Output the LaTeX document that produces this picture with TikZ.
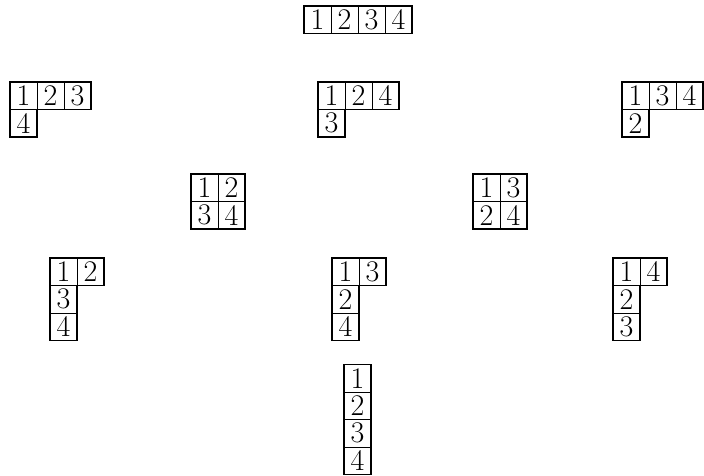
\documentclass[tikz,border=0pt]{standalone}
\begin{document}
\begin{tikzpicture}[x=1pt,y=-1pt]
\tikzset{
  cell/.style={draw,line width=1pt,minimum width=27pt,minimum height=27.5pt,inner sep=0pt,font=\fontsize{30}{30}\selectfont},
  outer/.style={line width=1.9pt,line join=miter},
  tab/.style={x=27pt,y=-27.5pt}
}
\useasboundingbox (0,0) rectangle (704,476);
% top
\begin{scope}[shift={(304,6)},tab]
  \foreach \d/\c/\r in {1/0/0,2/1/0,3/2/0,4/3/0} \node[cell] (T\d) at (\c+0.5,\r+0.5) {\d};
  \draw[outer] (0,0) rectangle (4,1);
\end{scope}
% row 2
\begin{scope}[shift={(10,82)},tab]
  \foreach \d/\c/\r in {1/0/0,2/1/0,3/2/0,4/0/1} \node[cell] (A\d) at (\c+0.5,\r+0.5) {\d};
  \draw[outer] (0,0) -| (3,1) -| (1,2) -| cycle;
\end{scope}
\begin{scope}[shift={(318,82)},tab]
  \foreach \d/\c/\r in {1/0/0,2/1/0,4/2/0,3/0/1} \node[cell] (B\d) at (\c+0.5,\r+0.5) {\d};
  \draw[outer] (0,0) -| (3,1) -| (1,2) -| cycle;
\end{scope}
\begin{scope}[shift={(622,82)},tab]
  \foreach \d/\c/\r in {1/0/0,3/1/0,4/2/0,2/0/1} \node[cell] (C\d) at (\c+0.5,\r+0.5) {\d};
  \draw[outer] (0,0) -| (3,1) -| (1,2) -| cycle;
\end{scope}
% row 3
\begin{scope}[shift={(191,174)},tab]
  \foreach \d/\c/\r in {1/0/0,2/1/0,3/0/1,4/1/1} \node[cell] (D\d) at (\c+0.5,\r+0.5) {\d};
  \draw[outer] (0,0) rectangle (2,2);
\end{scope}
\begin{scope}[shift={(473,174)},tab]
  \foreach \d/\c/\r in {1/0/0,3/1/0,2/0/1,4/1/1} \node[cell] (E\d) at (\c+0.5,\r+0.5) {\d};
  \draw[outer] (0,0) rectangle (2,2);
\end{scope}
% row 4
\begin{scope}[shift={(50,258)},tab]
  \foreach \d/\c/\r in {1/0/0,2/1/0,3/0/1,4/0/2} \node[cell] (F\d) at (\c+0.5,\r+0.5) {\d};
  \draw[outer] (0,0) -| (2,1) -| (1,3) -| cycle;
\end{scope}
\begin{scope}[shift={(332,258)},tab]
  \foreach \d/\c/\r in {1/0/0,3/1/0,2/0/1,4/0/2} \node[cell] (G\d) at (\c+0.5,\r+0.5) {\d};
  \draw[outer] (0,0) -| (2,1) -| (1,3) -| cycle;
\end{scope}
\begin{scope}[shift={(613,258)},tab]
  \foreach \d/\c/\r in {1/0/0,4/1/0,2/0/1,3/0/2} \node[cell] (H\d) at (\c+0.5,\r+0.5) {\d};
  \draw[outer] (0,0) -| (2,1) -| (1,3) -| cycle;
\end{scope}
% bottom
\begin{scope}[shift={(344,364.5)},tab]
  \foreach \d/\c/\r in {1/0/0,2/0/1,3/0/2,4/0/3} \node[cell] (I\d) at (\c+0.5,\r+0.5) {\d};
  \draw[outer] (0,0) rectangle (1,4);
\end{scope}
\end{tikzpicture}
\end{document}
